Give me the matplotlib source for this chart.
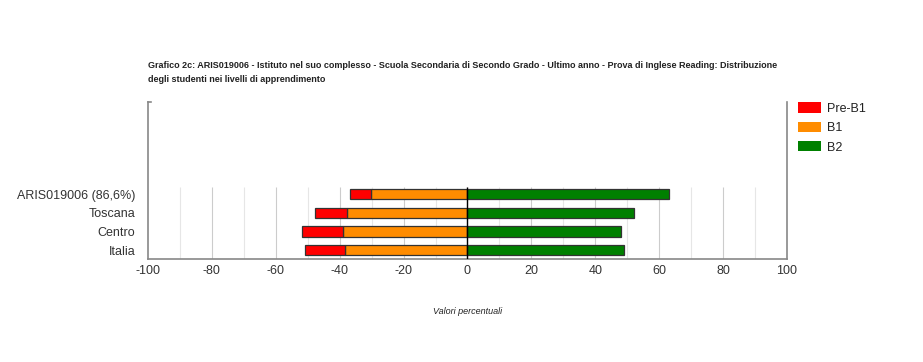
import numpy as np
import matplotlib.pyplot as plt
from matplotlib.patches import Patch

plt.rcParams['font.family'] = ['Liberation Sans', 'DejaVu Sans']
plt.rcParams['axes.unicode_minus'] = False

# Data
categories = ['Italia', 'Centro', 'Toscana', 'ARIS019006 (86,6%)']
pre_b1 = [12.7, 13.0, 10.2, 6.7]
b1 = [38.2, 38.9, 37.6, 30.2]
b2 = [49.1, 48.1, 52.2, 63.1]
levels = ['Pre-B1', 'B1', 'B2']
colors = ['#ff0000', '#ff8c00', '#008000']

title = ("Grafico 2c: ARIS019006 - Istituto nel suo complesso - Scuola Secondaria di Secondo Grado - "
         "Ultimo anno - Prova di Inglese Reading: Distribuzione\ndegli studenti nei livelli di apprendimento")

fig = plt.figure(figsize=(9.23, 3.62), dpi=100)
ax = fig.add_axes([148/923, 1-259/362, (787-148)/923, (259-102)/362])

y = np.arange(len(categories))
b1 = np.array(b1)
pre_b1 = np.array(pre_b1)
b2 = np.array(b2)
h = 0.55
grid_top = 3.37

# grid only in the bar region
for v in range(-90, 100, 10):
    c = '#cccccc' if v % 20 == 0 else '#e6e6e6'
    ax.vlines(v, -0.48, grid_top, color=c, lw=0.8, zorder=0)

ax.barh(y, -b1, height=h, color=colors[1], edgecolor='#333333', lw=0.9, zorder=2)
ax.barh(y, -pre_b1, left=-b1, height=h, color=colors[0], edgecolor='#333333', lw=0.9, zorder=2)
ax.barh(y, b2, height=h, color=colors[2], edgecolor='#333333', lw=0.9, zorder=2)
ax.vlines(0, -0.48, grid_top, color='black', lw=1, zorder=3)

ax.set_xlim(-100, 100)
ax.set_ylim(-0.48, 7.93)
ax.set_xticks(range(-100, 101, 20))
ax.set_yticks(y)
ax.set_yticklabels(categories)
ax.tick_params(axis='both', length=0, labelsize=9, colors='#333333', pad=4)
ax.tick_params(axis='y', pad=9)

ax.spines['top'].set_visible(False)
for s in ['left', 'right', 'bottom']:
    ax.spines[s].set_color('#888888')
    ax.spines[s].set_linewidth(1.2)
# little tick at the top of the left axis
ax.plot([-100, -99.2], [7.93, 7.93], color='#888888', lw=1.2, clip_on=False)

ax.set_xlabel('Valori percentuali', fontsize=6.5, style='italic', color='#222222', labelpad=22)

fig.text(148/923, 1-72.5/362, title, fontsize=6.5, fontweight='bold', color='#222222',
         va='center', ha='left', linespacing=1.65)

handles = [Patch(facecolor=c, edgecolor='none') for c in colors]
fig.legend(handles, levels, loc='upper left', bbox_to_anchor=(787/923, 1-91/362),
           frameon=False, fontsize=9, handlelength=1.8, handleheight=0.9,
           handletextpad=0.5, labelspacing=0.55, labelcolor='#222222')

fig.savefig('out.png', dpi=100)
